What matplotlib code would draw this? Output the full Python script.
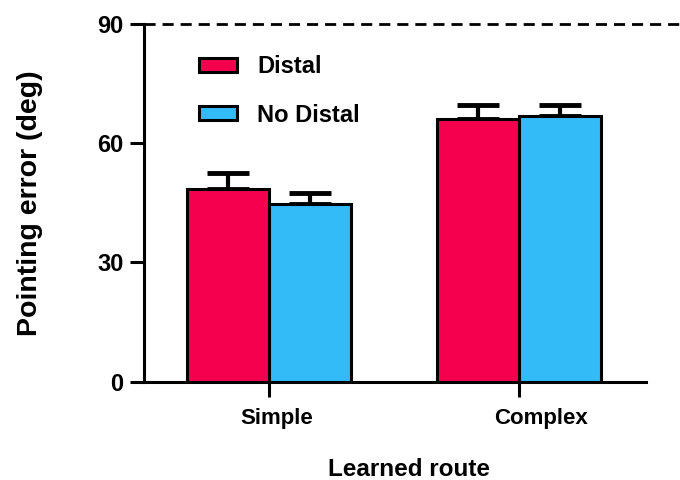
import numpy as np
import matplotlib
matplotlib.use("Agg")
import matplotlib.pyplot as plt
import matplotlib.transforms as mtransforms

# data
routes = ["Simple", "Complex"]
groups = ["Distal", "No Distal"]
distal_mean = [48.6, 66.1]
distal_err = [3.8, 3.5]
nodistal_mean = [44.6, 66.9]
nodistal_err = [3.0, 2.7]
colors = ["#F5004F", "#33BBF8"]

plt.rcParams["font.family"] = ["Liberation Sans", "DejaVu Sans"]
plt.rcParams["font.weight"] = "bold"

fig = plt.figure(figsize=(6.8, 4.8), dpi=100)
ax = fig.add_axes([0.212, 0.2048, 0.738, 0.7452])

x = np.arange(len(routes))
w = 0.328
lw_edge = 2.2

for off, means, errs, col, lab in [(-w / 2, distal_mean, distal_err, colors[0], groups[0]),
                                    (w / 2, nodistal_mean, nodistal_err, colors[1], groups[1])]:
    ax.bar(x + off, means, width=w, color=col, edgecolor="black", linewidth=lw_edge,
           label=lab, zorder=3)
    ax.errorbar(x + off, means, yerr=[np.zeros(len(errs)), errs], fmt="none",
                ecolor="black", elinewidth=3, capsize=15, capthick=3.5, zorder=2)

# dashed reference line at 90
ax.axhline(90, xmin=0, xmax=(680 - 144) / 502, color="black", lw=2, ls=(0, (4, 2.5)),
           clip_on=False, zorder=1)

ax.set_xlim(-0.5, 1.508)
ax.set_ylim(0, 90)
ax.set_yticks([0, 30, 60, 90])
ax.set_xticks(x)
ax.set_xticklabels(routes)

for s in ["top", "right"]:
    ax.spines[s].set_visible(False)
for s in ["left", "bottom"]:
    ax.spines[s].set_linewidth(2.2)

ax.tick_params(axis="y", length=10, width=2.2, pad=5, labelsize=17)
ax.tick_params(axis="x", length=11, width=2.2, pad=8, labelsize=16)

# the tick labels sit a little right of the ticks in the original
for lbl, dx in zip(ax.get_xticklabels(), [8, 22]):
    lbl.set_transform(lbl.get_transform() + mtransforms.ScaledTranslation(dx / 100, 0, fig.dpi_scale_trans))

ax.set_ylabel("Pointing error (deg)", fontsize=20.5, fontweight="bold", labelpad=39)
ax.set_xlabel("Learned route", fontsize=17.5, fontweight="bold")
ax.xaxis.set_label_coords(0.528, -0.213)

ax.legend(loc="upper left", bbox_to_anchor=(0.11, 0.913), frameon=False, fontsize=17,
          handlelength=1.6, handleheight=0.55, handletextpad=0.85, labelspacing=1.08,
          borderpad=0, borderaxespad=0)

plt.savefig("out.png", dpi=100)
